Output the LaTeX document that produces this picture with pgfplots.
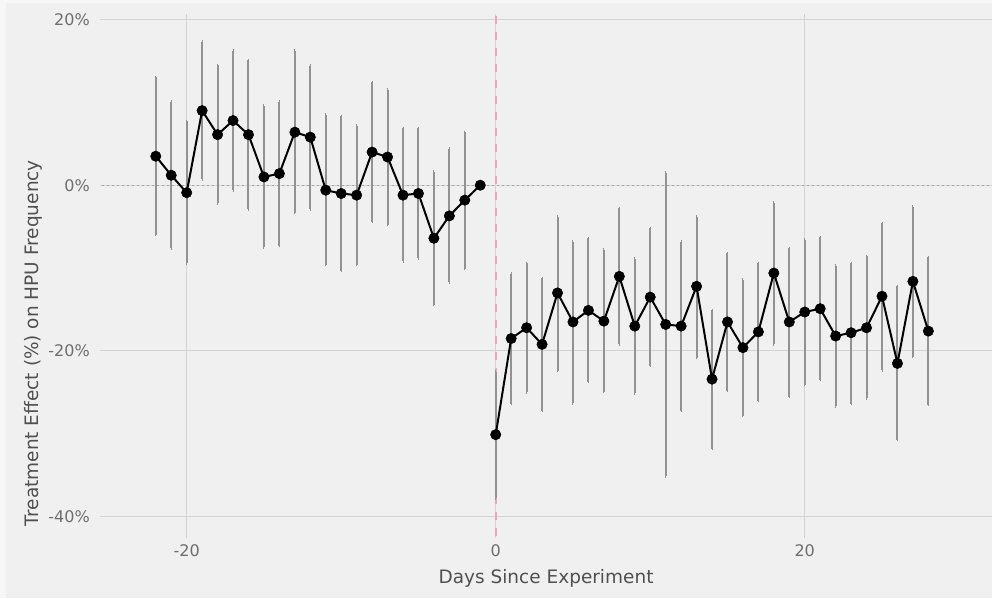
\documentclass[border=0pt]{standalone}
\usepackage{fontspec}
\setmainfont{DejaVu Sans}
\usepackage{pgfplots}
\pgfplotsset{compat=1.18}
\usepackage{pgfplotstable}
\definecolor{bg}{HTML}{F0F0F0}
\definecolor{bgedge}{HTML}{F7F7F7}
\definecolor{gridc}{HTML}{D3D3D3}
\definecolor{errc}{HTML}{929292}
\definecolor{vred}{HTML}{EDA6AF}
\definecolor{zeroc}{HTML}{A5A5A5}
\definecolor{ticklab}{HTML}{6E6E6E}
\definecolor{labc}{HTML}{505050}

\pgfplotstableread{
x y lo hi
-22 3.5 -6.0 13.0
-21 1.2 -7.6 10.1
-20 -0.9 -9.4 7.7
-19 9.0 0.7 17.3
-18 6.1 -2.2 14.5
-17 7.8 -0.6 16.2
-16 6.1 -2.9 15.1
-15 1.0 -7.5 9.6
-14 1.4 -7.3 10.1
-13 6.4 -3.3 16.2
-12 5.8 -2.9 14.4
-11 -0.6 -9.6 8.5
-10 -1.0 -10.3 8.3
-9 -1.2 -9.6 7.2
-8 4.0 -4.4 12.4
-7 3.4 -4.8 11.5
-6 -1.2 -9.2 6.9
-5 -1.0 -8.8 6.9
-4 -6.4 -14.4 1.6
-3 -3.7 -11.7 4.4
-2 -1.8 -10.1 6.4
-1 0 0 0
}\pre

\pgfplotstableread{
x y lo hi
0 -30.1 -37.8 -22.5
1 -18.5 -26.4 -10.7
2 -17.2 -25.0 -9.4
3 -19.2 -27.2 -11.2
4 -13.0 -22.4 -3.8
5 -16.5 -26.3 -6.8
6 -15.1 -23.7 -6.4
7 -16.4 -24.9 -7.8
8 -11.0 -19.2 -2.8
9 -17.0 -25.1 -8.9
10 -13.5 -21.8 -5.2
11 -16.8 -35.1 1.5
12 -17.0 -27.2 -6.8
13 -12.2 -20.8 -3.8
14 -23.4 -31.8 -15.1
15 -16.5 -24.8 -8.2
16 -19.6 -27.8 -11.4
17 -17.7 -26.0 -9.4
18 -10.6 -19.2 -2.1
19 -16.5 -25.5 -7.6
20 -15.3 -24.1 -6.6
21 -14.9 -23.5 -6.3
22 -18.2 -26.7 -9.7
23 -17.8 -26.4 -9.4
24 -17.2 -25.7 -8.6
25 -13.4 -22.3 -4.6
26 -21.5 -30.7 -12.2
27 -11.6 -20.7 -2.6
28 -17.6 -26.5 -8.7
}\post

\begin{document}
\begin{tikzpicture}
\fill[bgedge] (0,0) rectangle (992pt,598pt);
\fill[bg] (6pt,0) rectangle (992pt,595pt);
\begin{axis}[
  at={(100pt,60pt)}, anchor=south west,
  scale only axis, width=892pt, height=524pt,
  xmin=-25.61, xmax=32.12, ymin=-42.57, ymax=20.66,
  axis line style={draw=none},
  major tick length=0pt,
  xtick={-20,0,20}, xticklabels={-20,0,20},
  ytick={-40,-20,0,20}, yticklabels={-40\%,-20\%,0\%,20\%},
  grid=major, major grid style={gridc, line width=1pt},
  tick label style={font=\fontsize{16}{19}\selectfont, text=ticklab},
  yticklabel style={anchor=east, inner sep=0pt, xshift=-10pt},
  xticklabel style={anchor=center, inner sep=0pt, yshift=-13pt},
  xlabel={Days Since Experiment},
  ylabel={Treatment Effect (\%) on HPU Frequency},
  label style={font=\fontsize{18.5}{22}\selectfont, text=labc},
  xlabel style={at={(axis description cs:0.5,-0.0763)}, anchor=center},
  ylabel style={at={(axis description cs:-0.0751,0.372)}, anchor=center},
]
\addplot[zeroc, line width=1.4pt, dash pattern=on 1.6pt off 3.4pt, forget plot] coordinates {(-30,0) (40,0)};
\addplot[vred, line width=2pt, dash pattern=on 8pt off 8pt, forget plot] coordinates {(0,-50) (0,30)};

\addplot[errc, only marks, mark=none, forget plot,
  error bars/.cd, y dir=both, y explicit, error mark=-,
  error bar style={line width=2pt, errc},
  error mark options={line width=1pt, mark size=1.5pt, errc}]
  table[x=x, y=y, y error plus expr=\thisrow{hi}-\thisrow{y}, y error minus expr=\thisrow{y}-\thisrow{lo}] {\pre};
\addplot[errc, only marks, mark=none, forget plot,
  error bars/.cd, y dir=both, y explicit, error mark=-,
  error bar style={line width=2pt, errc},
  error mark options={line width=1pt, mark size=1.5pt, errc}]
  table[x=x, y=y, y error plus expr=\thisrow{hi}-\thisrow{y}, y error minus expr=\thisrow{y}-\thisrow{lo}] {\post};

\addplot[black, line width=2pt, mark=*, mark size=5.2pt, mark options={fill=black, line width=0.5pt}] table[x=x, y=y] {\pre};
\addplot[black, line width=2pt, mark=*, mark size=5.2pt, mark options={fill=black, line width=0.5pt}] table[x=x, y=y] {\post};
\end{axis}
\pgfresetboundingbox
\useasboundingbox (0,0) rectangle (992pt,598pt);
\end{tikzpicture}
\end{document}
